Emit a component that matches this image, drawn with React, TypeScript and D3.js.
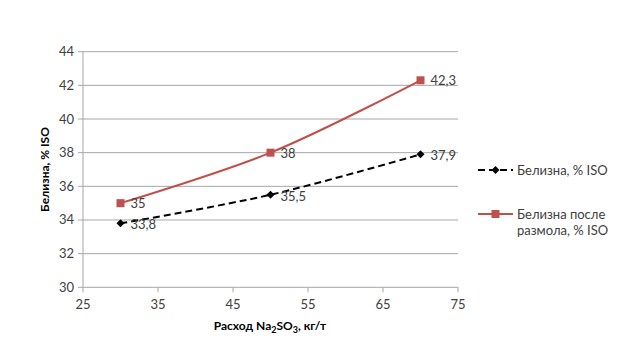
import React from "react";
import * as d3 from "d3";

const xValues = [30, 50, 70];
const series1 = [33.8, 35.5, 37.9];
const series2 = [35, 38, 42.3];
const labels1 = ["33,8", "35,5", "37,9"];
const labels2 = ["35", "38", "42,3"];
const xTicks = [25, 35, 45, 55, 65, 75];
const yTicks = [30, 32, 34, 36, 38, 40, 42, 44];
const seriesNames = ["Белизна, % ISO", "Белизна после", "размола, % ISO"];

const FONT = "Lato, 'Open Sans', sans-serif";

export default function App() {
  const W = 629, H = 355;
  const x = d3.scaleLinear().domain([25, 75]).range([83, 458]);
  const y = d3.scaleLinear().domain([30, 44]).range([287.3, 51.7]);
  const line = d3
    .line<[number, number]>()
    .x((d) => x(d[0]))
    .y((d) => y(d[1]))
    .curve(d3.curveCatmullRom.alpha(0.5));
  const d1 = line(xValues.map((v, i) => [v, series1[i]] as [number, number])) || "";
  const d2 = line(xValues.map((v, i) => [v, series2[i]] as [number, number])) || "";
  const red = "#C0504D";
  const grid = "#A6A6A6";
  const txt = "#404040";

  return (
    <svg width={W} height={H} style={{ position: "absolute", left: 0, top: 0, background: "#fff" }}>
      {yTicks.map((t) => (
        <g key={"y" + t}>
          <line x1={x(25)} x2={x(75)} y1={y(t)} y2={y(t)} stroke={grid} strokeWidth={1} />
          <line x1={x(25) - 5} x2={x(25)} y1={y(t)} y2={y(t)} stroke={grid} strokeWidth={1} />
          <text x={x(25) - 9} y={y(t) + 4.5} textAnchor="end" fontFamily={FONT} fontSize={13} fill={txt}>
            {t}
          </text>
        </g>
      ))}
      <line x1={x(25)} x2={x(25)} y1={y(44)} y2={y(30)} stroke={grid} strokeWidth={1} />
      {xTicks.map((t) => (
        <g key={"x" + t}>
          <line x1={x(t)} x2={x(t)} y1={y(30)} y2={y(30) + 5} stroke={grid} strokeWidth={1} />
          <text x={x(t)} y={y(30) + 22} textAnchor="middle" fontFamily={FONT} fontSize={13} fill={txt}>
            {t}
          </text>
        </g>
      ))}
      <path d={d2} fill="none" stroke={red} strokeWidth={2} />
      <path d={d1} fill="none" stroke="#000" strokeWidth={2} strokeDasharray="7,4" />
      {xValues.map((v, i) => (
        <g key={"m" + i}>
          <rect x={x(v) - 4} y={y(series2[i]) - 4} width={8} height={8} fill={red} />
          <path
            d={`M${x(v)},${y(series1[i]) - 4}L${x(v) + 4},${y(series1[i])}L${x(v)},${y(series1[i]) + 4}L${x(v) - 4},${y(series1[i])}Z`}
            fill="#000"
          />
          <text x={x(v) + 10} y={y(series2[i]) + 5} fontFamily={FONT} fontSize={13} fill={txt}>
            {labels2[i]}
          </text>
          <text x={x(v) + 10} y={y(series1[i]) + 6} fontFamily={FONT} fontSize={13} fill={txt}>
            {labels1[i]}
          </text>
        </g>
      ))}
      <text
        transform={`translate(49,${(y(44) + y(30)) / 2}) rotate(-90)`}
        textAnchor="middle"
        fontFamily={FONT}
        fontSize={12}
        fontWeight="bold"
        fill="#000"
      >
        {seriesNames[0]}
      </text>
      <text x={270} y={330} textAnchor="middle" fontFamily={FONT} fontSize={12} fontWeight="bold" fill="#000">
        Расход Na<tspan fontSize={9} dy={3}>2</tspan>
        <tspan dy={-3}>SO</tspan>
        <tspan fontSize={9} dy={3}>3</tspan>
        <tspan dy={-3}>, кг/т</tspan>
      </text>
      <line x1={478} x2={513} y1={170} y2={170} stroke="#000" strokeWidth={2} strokeDasharray="7,4" />
      <path d="M495.5,166L499.5,170L495.5,174L491.5,170Z" fill="#000" />
      <text x={517} y={175} fontFamily={FONT} fontSize={13} fill={txt}>
        {seriesNames[0]}
      </text>
      <line x1={478} x2={513} y1={214} y2={214} stroke={red} strokeWidth={2} />
      <rect x={491.5} y={210} width={8} height={8} fill={red} />
      <text x={517} y={219} fontFamily={FONT} fontSize={13} fill={txt}>
        {seriesNames[1]}
      </text>
      <text x={517} y={235} fontFamily={FONT} fontSize={13} fill={txt}>
        {seriesNames[2]}
      </text>
    </svg>
  );
}
